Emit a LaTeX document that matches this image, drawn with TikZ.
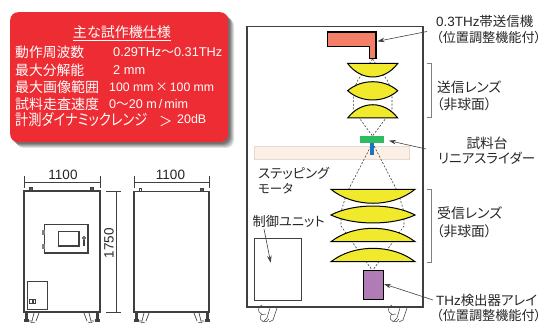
\documentclass[tikz,border=0pt]{standalone}
\usepackage{graphicx}
\usepackage{fontspec}
\setmainfont{Liberation Sans}
\newfontfamily\jpf[RawFeature={+palt}]{Noto Sans CJK JP}
\newcommand{\jp}[1]{{\jpf #1}}
\newcommand{\fw}[2]{\resizebox{#1pt}{!}{#2}}
\usetikzlibrary{arrows.meta}
\definecolor{redbox}{HTML}{EE2C33}
\definecolor{salmon}{HTML}{F47F67}
\definecolor{lensy}{HTML}{F1E92C}
\definecolor{stage}{HTML}{2FBB62}
\definecolor{rod}{HTML}{1B75BC}
\definecolor{peach}{HTML}{FCEFE6}
\definecolor{peachl}{HTML}{E5D9D0}
\definecolor{purp}{HTML}{B07CB5}
\definecolor{edge}{HTML}{404040}
\definecolor{txt}{HTML}{262626}
\tikzset{
  lab/.style={anchor=west,inner sep=0pt,text=txt,font=\fontsize{12.4}{14}\selectfont},
  spec/.style={anchor=west,inner sep=0pt,text=white,font=\fontsize{13.4}{15}\selectfont},
  spect/.style={anchor=west,inner sep=0pt,text=white,font=\fontsize{12.4}{15}\selectfont},
  dim/.style={inner sep=0pt,text=txt,font=\fontsize{13.5}{15}\selectfont},
  cab/.style={draw=edge,line width=1.1pt},
  thinl/.style={draw=edge,line width=.5pt},
  lens/.style={draw=black,fill=lensy,line width=1pt,line join=miter},
  ray/.style={draw=edge,line width=.6pt,dash pattern=on 2pt off 1.6pt},
  callout/.style={draw=edge,line width=.6pt,-{Stealth[length=7pt,width=4.5pt]}},
  bracket/.style={draw=gray,line width=.7pt},
}
% lens with one flat side: x1,x2,y of the flat side, signed bulge
\newcommand{\lensflat}[4]{\path[lens] (#1,#3) -- (#2,#3) .. controls ({#2-(#2-#1)*.27},{#3+1.33*(#4)}) and ({#1+(#2-#1)*.27},{#3+1.33*(#4)}) .. (#1,#3) -- cycle;}
% biconvex lens: x1,x2,y of the axis, top bulge, bottom bulge
\newcommand{\lensbi}[5]{\path[lens] (#1,#3) .. controls ({#1+(#2-#1)*.27},{#3-1.33*(#4)}) and ({#2-(#2-#1)*.27},{#3-1.33*(#4)}) .. (#2,#3) .. controls ({#2-(#2-#1)*.27},{#3+1.33*(#5)}) and ({#1+(#2-#1)*.27},{#3+1.33*(#5)}) .. (#1,#3) -- cycle;}
% caster at x, y top
\newcommand{\casterL}[2]{\draw[thinl,fill=white,line width=.7pt] (#1+6,#2+1) -- (#1+4,#2+9) -- (#1+1,#2+9);
  \draw[thinl,line width=.7pt] (#1+11,#2+1) -- (#1+8,#2+9);
  \draw[thinl] (#1+5,#2+10) arc (270:130:3.5); \draw[thinl] (#1+7,#2+10) arc (270:130:5);
  \fill[edge] (#1-3.5,#2+.5) rectangle (#1-.5,#2+7); \fill[edge] (#1-4.5,#2+7) rectangle (#1+.5,#2+10);}
\newcommand{\casterR}[2]{\draw[thinl,fill=white,line width=.7pt] (#1-6,#2+1) -- (#1-4,#2+9) -- (#1-1,#2+9);
  \draw[thinl,line width=.7pt] (#1-11,#2+1) -- (#1-8,#2+9);
  \draw[thinl] (#1-5,#2+10) arc (270:410:3.5); \draw[thinl] (#1-7,#2+10) arc (270:410:5);
  \fill[edge] (#1+.5,#2+.5) rectangle (#1+3.5,#2+7); \fill[edge] (#1-.5,#2+7) rectangle (#1+4.5,#2+10);}
\newcommand{\casterM}[1]{\draw[thinl] (#1+2,308) -- (#1-1,318) -- (#1-4,321);
  \draw[thinl] (#1+9,308) -- (#1+5,320) -- (#1+1,322);
  \draw[thinl] (#1+1,319) arc (20:230:4.5); \draw[thinl] (#1-2,314) arc (60:250:5);}
\begin{document}
\begin{tikzpicture}[x=1pt,y=-1pt]
\useasboundingbox (0,0) rectangle (546,323);
\fill[white] (0,0) rectangle (546,323);

% spec panel
\foreach \d/\o in {6/.12,5/.12,4/.14,3/.16,2/.18}
  \fill[black,opacity=\o,rounded corners=8pt] (10+\d,12+\d) rectangle (228+\d,142+\d);
\node[draw=none,fill=redbox,rounded corners=8pt,minimum width=218pt,minimum height=130pt,anchor=north west,inner sep=0pt] (panel) at (10,12) {};
\node[spec,anchor=center] (ttl) at (122,32) {\fw{98}{\jp{主な試作機仕様}}};
\draw[white,line width=.7pt] (73,40) -- (171,40);
\node[spec] (s1) at (15,52) {\fw{69}{\jp{動作周波数}}};
\node[spec] (s2) at (15,70) {\fw{69}{\jp{最大分解能}}};
\node[spec] (s3) at (15,87) {\fw{84}{\jp{最大画像範囲}}};
\node[spec] (s4) at (15,104) {\fw{84}{\jp{試料走査速度}}};
\node[spec] (s5) at (15,120) {\resizebox{132pt}{13pt}{\jp{計測ダイナミックレンジ}}};
\node[spect] (v1) at (113,52) {\fw{109}{0.29THz\jp{～}0.31THz}};
\node[spect] (v2) at (113,70) {\fw{32}{2 mm}};
\node[spect] (v3) at (109,87) {\fw{105}{100 mm\,\jp{×}\,100 mm}};
\node[spect] (v4) at (109,104) {\fw{79}{0\jp{～}20 m\,/\,mim}};
\node[spec] (v5a) at (159,121) {\jp{＞}};
\node[spect] (v5) at (177,119) {\fw{29}{20dB}};

% front cabinet
\draw[thinl] (24,176) -- (24,188) (100,176) -- (100,188);
\draw[thinl] (24,182) -- (100,182);
\node[dim] (w1) at (63,175) {1100};
\draw[thinl] (134,176) -- (134,188) (209,176) -- (209,188);
\draw[thinl] (134,182) -- (209,182);
\node[dim] (w2) at (170.5,175) {1100};
\draw[thinl] (106,191) -- (121,191) (106,312) -- (121,312);
\draw[thinl] (116.5,191) -- (116.5,312);
\node[dim,rotate=90] (h) at (109,243) {1750};

\fill[gray!70!black,draw=edge,line width=.5pt] (29.5,187.5) rectangle (32.5,191);
\fill[gray!70!black,draw=edge,line width=.5pt] (90.5,187.5) rectangle (93.5,191);
\draw[cab] (24,191) rectangle (100,312);
\draw[cab] (44.5,224.5) rectangle (88,253);
\draw[cab] (58.5,231.5) rectangle (79,246);
\fill[gray] (42,229.5) rectangle (44.5,234.5);
\fill[gray] (42,243.5) rectangle (44.5,248.5);
\draw[edge,line width=.8pt] (84,238) circle (1.5);
\fill[edge] (83,240) rectangle (85,245.5);
\draw[edge,line width=.8pt] (27,281.5) rectangle (47,309);
\draw[edge,line width=.6pt] (29.5,299) rectangle (32,303.5);
\draw[edge,line width=.6pt] (33.5,299) rectangle (35.5,303.5);
\casterL{28}{312}\casterR{95}{312}

% side cabinet
\draw[edge,line width=.7pt,fill=white] (139.3,188) rectangle (141.5,191);
\fill[gray!70!black,draw=edge,line width=.5pt] (200.5,188) rectangle (203,191);
\draw[cab] (134,191.5) rectangle (209,312);
\casterL{138}{312}\casterR{205}{312}

% main cabinet
\draw[cab,line width=1.3pt] (247,26.7) rectangle (423,307);
\casterM{268}\casterM{398}
\node[draw=peachl,fill=peach,line width=.6pt,minimum width=154.7pt,minimum height=12.4pt,inner sep=0pt,anchor=north west] (slider) at (254.3,146.3) {};

% rays
\draw[ray] (372.5,59) -- (358,80) -- (353.3,90) -- (353.3,110) -- (372.5,136);
\draw[ray] (372.5,59) -- (387,80) -- (392,90) -- (392,110) -- (372.5,136);
\draw[ray] (372.5,143) -- (346.7,193) -- (341,212) -- (341,226) -- (372,270);
\draw[ray] (372.5,143) -- (398.3,193) -- (404,212) -- (404,226) -- (373,270);

% source
\draw[black,fill=salmon,line width=1.1pt] (327.3,32) -- (376,32) -- (376,58.7) -- (369.3,58.7) -- (369.3,46.7) -- (327.3,46.7) -- cycle;
\coordinate (srcp) at (377.5,41.3);

% lenses
\lensflat{347.7}{397.7}{63.5}{13.5}
\lensbi{347.7}{397.7}{90.7}{9}{9.3}
\lensflat{347.7}{397.7}{118}{-13.3}
\lensflat{331}{415}{189.3}{14}
\lensbi{331}{415}{215}{9}{8}
\lensflat{331}{415}{241.7}{-13.4}
\lensflat{331}{415}{261.7}{-13.4}

% stage
\node[fill=stage,minimum width=23.7pt,minimum height=7pt,inner sep=0pt,anchor=north west] (stg) at (360,136) {};
\node[fill=rod,minimum width=4.3pt,minimum height=11.7pt,inner sep=0pt,anchor=north west] (rodn) at (369.7,143) {};
\coordinate (stgp) at (389,140.7);

% detector
\node[draw=black,fill=purp,line width=1.1pt,minimum width=20pt,minimum height=29.3pt,inner sep=0pt,anchor=north west] (det) at (362.7,270) {};
\coordinate (detp) at (384,284);

% control unit
\node[draw=edge,line width=1.1pt,minimum width=46.7pt,minimum height=62.3pt,inner sep=0pt,anchor=north west] (ctl) at (254,237.7) {};
\coordinate (ctlp) at (270.7,262.7);
\coordinate (ctls) at (264,229);

% text inside main cabinet
\node[lab] (m1) at (258,173) {\fw{71}{\jp{ステッピング}}};
\node[lab] (m2) at (258,189) {\fw{35}{\jp{モータ}}};
\node[lab] (c1) at (252.5,221) {\fw{72}{\jp{制御ユニット}}};
\draw[callout] (ctls) -- (ctlp);

% right labels
\node[lab] (t1) at (436,21) {\fw{97}{0.3THz\jp{帯送信機}}};
\node[lab] (t2) at (436,38) {\fw{105}{\jp{（位置調整機能付）}}};
\node[lab] (l1) at (437,87) {\fw{64}{\jp{送信レンズ}}};
\node[lab] (l2) at (436.5,104) {\fw{55}{\jp{（非球面）}}};
\node[lab,anchor=center] (st1) at (487,143) {\fw{41}{\jp{試料台}}};
\node[lab] (st2) at (438,158) {\fw{97}{\jp{リニアスライダー}}};
\node[lab] (r1) at (437,213) {\fw{65}{\jp{受信レンズ}}};
\node[lab] (r2) at (436.5,231) {\fw{55}{\jp{（非球面）}}};
\node[lab] (d1) at (436,300) {\fw{101}{THz\jp{検出器アレイ}}};
\node[lab] (d2) at (436,315.5) {\fw{105}{\jp{（位置調整機能付）}}};

\draw[bracket] (426.7,63.3) -- (431,63.3) -- (431,117.3) -- (426.7,117.3);
\draw[bracket] (426.7,189.3) -- (431,189.3) -- (431,262.7) -- (426.7,262.7);

\coordinate (t1a) at (427,31.5);
\coordinate (st1a) at (426,149);
\coordinate (d1a) at (433,300);
\draw[callout] (t1a) -- (srcp);
\draw[callout] (st1a) -- (stgp);
\draw[callout] (d1a) -- (detp);
\end{tikzpicture}
\end{document}
